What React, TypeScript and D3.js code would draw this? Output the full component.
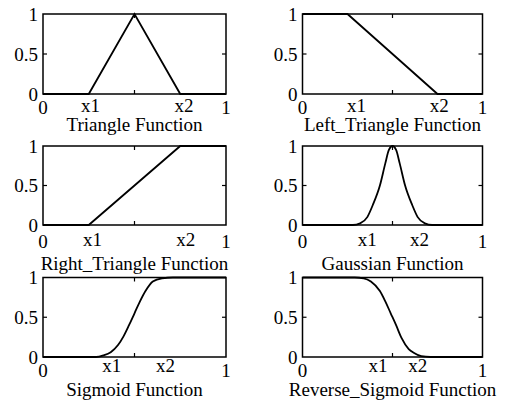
import React from 'react';
import * as d3 from 'd3';

// six membership functions
const titles = [
  'Triangle Function',
  'Left_Triangle Function',
  'Right_Triangle Function',
  'Gaussian Function',
  'Sigmoid Function',
  'Reverse_Sigmoid Function',
];

const triangleX = [0, 0.25, 0.5, 0.75, 1];
const triangleY = [0, 0, 1, 0, 0];

const leftTriangleX = [0, 0.25, 0.75, 1];
const leftTriangleY = [1, 1, 0, 0];

const rightTriangleX = [0, 0.25, 0.75, 1];
const rightTriangleY = [0, 0, 1, 1];

const gaussianX = [0, 0.28, 0.32, 0.36, 0.39, 0.43, 0.46, 0.48, 0.5, 0.52, 0.54, 0.57, 0.61, 0.64, 0.68, 0.72, 1];
const gaussianY = [0, 0, 0.02, 0.1, 0.25, 0.5, 0.78, 0.95, 1, 0.95, 0.78, 0.5, 0.25, 0.1, 0.02, 0, 0];

const sigmoidX = [0, 0.29, 0.33, 0.37, 0.41, 0.44, 0.47, 0.5, 0.53, 0.56, 0.6, 0.65, 0.71, 1];
const sigmoidY = [0, 0, 0.02, 0.06, 0.15, 0.26, 0.4, 0.55, 0.7, 0.83, 0.95, 0.99, 1, 1];

const revSigmoidX = [0, 0.29, 0.34, 0.38, 0.43, 0.46, 0.49, 0.52, 0.55, 0.59, 0.62, 0.66, 0.71, 1];
const revSigmoidY = [1, 1, 0.99, 0.95, 0.83, 0.7, 0.55, 0.4, 0.24, 0.1, 0.05, 0.01, 0, 0];

const xTickLabels = ['0', 'x1', 'x2', '1'];
const xTickPos = [
  [0, 0.26, 0.77, 1],
  [0, 0.3, 0.76, 1],
  [0, 0.27, 0.78, 1],
  [0, 0.36, 0.65, 1],
  [0, 0.375, 0.67, 1],
  [0, 0.42, 0.64, 1],
];

const yTicks = [0, 0.5, 1];
const yTickLabels = ['0', '0.5', '1'];
const innerTicks = [0.5];

const series = [
  [triangleX, triangleY, false],
  [leftTriangleX, leftTriangleY, false],
  [rightTriangleX, rightTriangleY, false],
  [gaussianX, gaussianY, true],
  [sigmoidX, sigmoidY, true],
  [revSigmoidX, revSigmoidY, true],
] as [number[], number[], boolean][];

// layout of the 3x2 grid
const cols = [[43, 226], [302.5, 482.5]];
const rows = [[14, 94], [146, 225], [277.5, 357]];
const labelDy = [[18, 20], [21, 23], [15, 20]];
const titleDy = [37, 45, 39];
const font = '"Liberation Serif", "Times New Roman", serif';
const fs = 19;

function Panel({ i }: { i: number }) {
  const r = Math.floor(i / 2), c = i % 2;
  const [x0, x1] = cols[c];
  const [y0, y1] = rows[r];
  const x = d3.scaleLinear().domain([0, 1]).range([x0, x1]);
  const y = d3.scaleLinear().domain([0, 1]).range([y1, y0]);
  const [xs, ys, smooth] = series[i];
  const pts = xs.map((v, k) => [v, ys[k]] as [number, number]);
  const line = d3.line<[number, number]>()
    .x(d => x(d[0]))
    .y(d => y(d[1]))
    .curve(smooth ? d3.curveMonotoneX : d3.curveLinear);
  const tl = 4;
  return (
    <g>
      <rect x={x0} y={y0} width={x1 - x0} height={y1 - y0} fill="none" stroke="#000" strokeWidth={1.5} />
      {innerTicks.map(t => (
        <g key={'t' + t} stroke="#000" strokeWidth={1.2}>
          <line x1={x(t)} x2={x(t)} y1={y1} y2={y1 - tl} />
          <line x1={x(t)} x2={x(t)} y1={y0} y2={y0 + tl} />
          <line x1={x0} x2={x0 + tl} y1={y(t)} y2={y(t)} />
          <line x1={x1} x2={x1 - tl} y1={y(t)} y2={y(t)} />
        </g>
      ))}
      <path d={line(pts) || ''} fill="none" stroke="#000" strokeWidth={1.8} />
      {yTicks.map((t, k) => (
        <text key={'y' + k} x={x0 - 5} y={y(t)} dy="0.35em" textAnchor="end"
          fontFamily={font} fontSize={fs}>{yTickLabels[k]}</text>
      ))}
      {xTickPos[i].map((p, k) => (
        <text key={'x' + k} x={x(p)} y={y1 + (k === 0 || k === 3 ? labelDy[r][1] : labelDy[r][0])}
          textAnchor="middle" fontFamily={font} fontSize={fs}>{xTickLabels[k]}</text>
      ))}
      <text x={(x0 + x1) / 2} y={y1 + titleDy[r]} textAnchor="middle"
        fontFamily={font} fontSize={fs}>{titles[i]}</text>
    </g>
  );
}

export default function App() {
  return (
    <svg width={508} height={411} style={{ position: 'absolute', left: 0, top: 0, background: '#fff' }}>
      <rect width={508} height={411} fill="#fff" />
      {titles.map((_, i) => <Panel key={i} i={i} />)}
    </svg>
  );
}
